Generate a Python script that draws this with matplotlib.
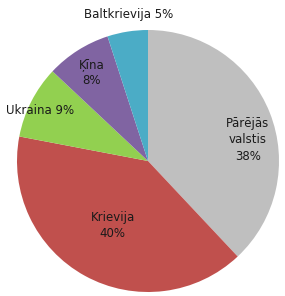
import numpy as np
import matplotlib
matplotlib.use("Agg")
import matplotlib.pyplot as plt

# data
labels = ["Pārējās\nvalstis", "Krievija", "Ukraina", "Ķīna", "Baltkrievija"]
shares = [38, 40, 9, 8, 5]
colors = ["#BFBFBF", "#C0504D", "#92D050", "#8064A2", "#4BACC6"]

# label layout: radial distance (fraction of radius), angle nudge (deg), separator
label_dist = [0.78, 0.56, 0.91, 0.80, 1.13]
label_nudge = [-9.7, 0, 2, 0, -1.3]
label_sep = ["\n", "\n", " ", "\n", " "]

fig = plt.figure(figsize=(2.85, 2.96), dpi=100)
r_px = 131
cx, cy = 148, 296 - 161
ax = fig.add_axes([(cx - r_px) / 285, (cy - r_px) / 296, 2 * r_px / 285, 2 * r_px / 296])

wedges, _ = ax.pie(shares, colors=colors, startangle=90, counterclock=False,
                   wedgeprops=dict(linewidth=0))
ax.set_xlim(-1, 1)
ax.set_ylim(-1, 1)
ax.set_aspect("equal")
ax.axis("off")

for w, lab, val, d, nudge, sep in zip(wedges, labels, shares, label_dist, label_nudge, label_sep):
    mid = np.deg2rad((w.theta1 + w.theta2) / 2 + nudge)
    ax.text(d * np.cos(mid), d * np.sin(mid), f"{lab}{sep}{val}%",
            ha="center", va="center", fontsize=8.5, color="#1a1a1a",
            linespacing=1.35, clip_on=False)

fig.savefig("out.png", dpi=100)
